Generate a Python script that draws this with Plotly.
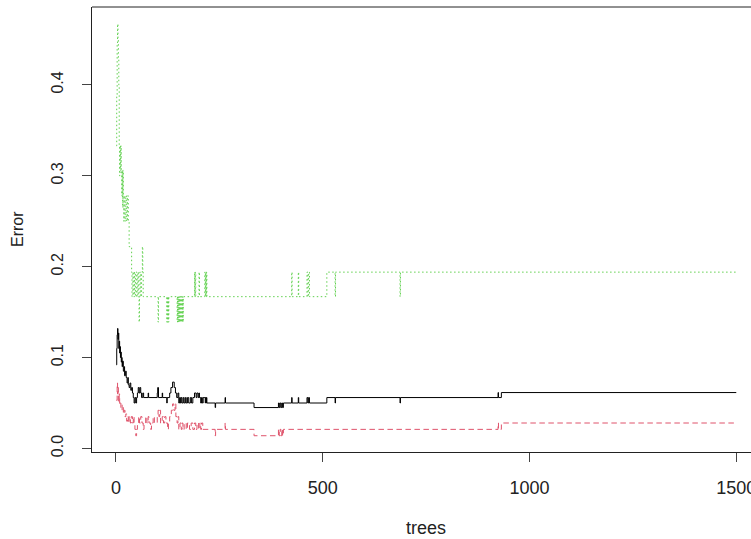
import plotly.graph_objects as go

# ---- data: change points (tree index where a new value starts) and error values ----
oob_trees = [1, 2, 3, 4, 5, 6, 7, 8, 9, 10, 11, 12, 13, 14, 15, 16, 18, 20, 21, 23, 25, 27, 29, 30,
             32, 34, 36, 38, 40, 42, 44, 46, 48, 50, 52, 54, 56, 58, 60, 62, 65, 67, 78, 79, 100,
             101, 103, 112, 113, 123, 124, 130, 133, 137, 141, 144, 147, 150, 152, 154, 156, 158,
             160, 163, 165, 168, 170, 173, 176, 180, 183, 186, 190, 194, 196, 199, 201, 202, 205,
             207, 209, 211, 215, 216, 217, 218, 219, 220, 240, 241, 264, 265, 334, 393, 395, 397,
             399, 401, 403, 405, 425, 426, 441, 442, 462, 464, 466, 468, 510, 530, 531, 687, 688,
             924, 925, 932, 1500]
oob_err = [0.092, 0.110, 0.125, 0.132, 0.120, 0.127, 0.110, 0.118, 0.105, 0.112, 0.100, 0.106,
           0.095, 0.100, 0.090, 0.096, 0.085, 0.090, 0.080, 0.085, 0.078, 0.072, 0.078, 0.070,
           0.067, 0.072, 0.064, 0.067, 0.061, 0.056, 0.050, 0.056, 0.050, 0.056, 0.061, 0.067,
           0.061, 0.067, 0.061, 0.056, 0.061, 0.056, 0.061, 0.056, 0.061, 0.067, 0.056, 0.061,
           0.056, 0.050, 0.056, 0.061, 0.067, 0.073, 0.067, 0.061, 0.056, 0.061, 0.050, 0.056,
           0.050, 0.056, 0.050, 0.056, 0.050, 0.056, 0.050, 0.056, 0.050, 0.056, 0.050, 0.056,
           0.061, 0.056, 0.061, 0.056, 0.061, 0.056, 0.050, 0.056, 0.050, 0.056, 0.056, 0.050,
           0.056, 0.050, 0.056, 0.050, 0.045, 0.050, 0.056, 0.050, 0.045, 0.050, 0.045, 0.050,
           0.045, 0.050, 0.045, 0.050, 0.056, 0.050, 0.056, 0.050, 0.056, 0.050, 0.056, 0.050,
           0.056, 0.050, 0.056, 0.050, 0.056, 0.0615, 0.056, 0.0615, 0.0615]

c1_trees = [1, 3, 4, 5, 6, 8, 9, 10, 12, 14, 15, 17, 18, 20, 22, 24, 26, 28, 30, 32, 35, 37, 40,
            42, 44, 46, 48, 50, 52, 55, 57, 60, 63, 66, 68, 72, 75, 78, 80, 84, 86, 90, 93, 100,
            102, 104, 106, 108, 112, 115, 118, 121, 125, 127, 130, 134, 137, 140, 143, 145, 148,
            150, 152, 155, 158, 160, 162, 165, 170, 173, 178, 182, 186, 190, 193, 196, 200, 203,
            205, 207, 210, 240, 241, 264, 265, 334, 393, 395, 397, 399, 401, 403, 405, 924, 925,
            932, 1500]
c1_err = [0.053, 0.072, 0.060, 0.067, 0.052, 0.060, 0.048, 0.050, 0.045, 0.048, 0.042, 0.045,
          0.038, 0.042, 0.035, 0.038, 0.030, 0.035, 0.028, 0.035, 0.028, 0.035, 0.028, 0.035,
          0.028, 0.021, 0.014, 0.021, 0.028, 0.035, 0.028, 0.035, 0.028, 0.021, 0.028, 0.035,
          0.028, 0.035, 0.028, 0.021, 0.028, 0.035, 0.028, 0.035, 0.042, 0.035, 0.042, 0.028,
          0.035, 0.028, 0.035, 0.028, 0.021, 0.028, 0.035, 0.042, 0.049, 0.042, 0.049, 0.035,
          0.028, 0.035, 0.021, 0.028, 0.021, 0.028, 0.021, 0.028, 0.021, 0.028, 0.021, 0.028,
          0.021, 0.028, 0.021, 0.028, 0.021, 0.028, 0.021, 0.028, 0.021, 0.014, 0.021, 0.028,
          0.021, 0.014, 0.021, 0.014, 0.021, 0.014, 0.021, 0.014, 0.021, 0.028, 0.021, 0.028,
          0.028]

c2_trees = [1, 2, 3, 4, 5, 6, 7, 8, 9, 10, 11, 12, 13, 14, 15, 16, 17, 18, 19, 20, 22, 24, 26,
            28, 30, 32, 38, 39, 41, 43, 45, 47, 49, 51, 53, 55, 56, 57, 58, 60, 62, 64, 65, 66,
            102, 103, 123, 124, 125, 126, 127, 128, 148, 149, 150, 151, 152, 153, 154, 155, 156,
            157, 158, 159, 160, 161, 162, 163, 190, 191, 192, 193, 201, 202, 215, 216, 217, 218,
            219, 220, 425, 426, 441, 442, 462, 464, 466, 468, 510, 530, 531, 687, 688, 1500]
c2_err = [0.333, 0.389, 0.444, 0.467, 0.450, 0.429, 0.400, 0.333, 0.300, 0.333, 0.306, 0.333,
          0.306, 0.278, 0.306, 0.265, 0.306, 0.278, 0.250, 0.278, 0.250, 0.278, 0.250, 0.278,
          0.250, 0.222, 0.194, 0.167, 0.194, 0.167, 0.194, 0.167, 0.194, 0.167, 0.194, 0.167,
          0.139, 0.167, 0.194, 0.167, 0.194, 0.222, 0.194, 0.167, 0.139, 0.167, 0.139, 0.167,
          0.139, 0.167, 0.139, 0.167, 0.139, 0.167, 0.139, 0.167, 0.139, 0.167, 0.139, 0.167,
          0.139, 0.167, 0.139, 0.167, 0.139, 0.167, 0.139, 0.167, 0.194, 0.167, 0.194, 0.167,
          0.194, 0.167, 0.194, 0.167, 0.194, 0.167, 0.194, 0.167, 0.194, 0.167, 0.194, 0.167,
          0.194, 0.167, 0.194, 0.167, 0.194, 0.167, 0.194, 0.167, 0.194, 0.194]

x_tickvals = [0, 500, 1000, 1500]
y_tickvals = [0.0, 0.1, 0.2, 0.3, 0.4]
y_ticktext = ["0.0", "0.1", "0.2", "0.3", "0.4"]

FONT = "Liberation Sans, Arial, sans-serif"
TXT = "#222222"

fig = go.Figure()
fig.add_trace(go.Scatter(x=oob_trees, y=oob_err, mode="lines", line_shape="hv",
                         line=dict(color="black", width=1), name="OOB"))
fig.add_trace(go.Scatter(x=c1_trees, y=c1_err, mode="lines", line_shape="hv",
                         line=dict(color="#DF536B", width=1, dash="5.5px,3.5px"), name="1"))
fig.add_trace(go.Scatter(x=c2_trees, y=c2_err, mode="lines", line_shape="hv",
                         line=dict(color="#61D04F", width=1, dash="1.5px,2.5px"), name="2"))

fig.update_layout(
    width=751, height=539,
    margin=dict(l=92, r=0, t=7, b=87),
    paper_bgcolor="white", plot_bgcolor="white",
    showlegend=False,
    font=dict(family=FONT, color=TXT),
)
fig.update_xaxes(range=[-57.8, 1535.6], showgrid=False, zeroline=False, automargin=False,
                 showline=True, linecolor="#222222", linewidth=1,
                 ticks="outside", ticklen=9, tickcolor="#444444", tickwidth=1,
                 tickvals=x_tickvals, tickfont=dict(size=18, family=FONT, color=TXT),
                 ticklabelstandoff=10, ticklabeloverflow="allow")
fig.update_yaxes(range=[-0.0039, 0.4857], showgrid=False, zeroline=False, automargin=False,
                 showline=True, linecolor="#222222", linewidth=1,
                 ticks="outside", ticklen=9, tickcolor="#444444", tickwidth=1,
                 tickvals=y_tickvals, ticktext=y_ticktext, tickangle=-90,
                 tickfont=dict(size=16, family=FONT, color=TXT),
                 ticklabelstandoff=13, ticklabeloverflow="allow")
# top frame line (right side of the R box lies outside the window)
fig.add_shape(type="line", xref="paper", yref="paper", x0=0, x1=1, y0=1, y1=1,
              line=dict(color="#222222", width=1))
fig.add_annotation(text="trees", xref="x", yref="paper", x=750, y=-0.1708,
                   showarrow=False, xanchor="center", yanchor="middle",
                   font=dict(size=18, family=FONT, color=TXT))
fig.add_annotation(text="Error", xref="paper", yref="paper", x=-0.113, y=0.5,
                   showarrow=False, xanchor="center", yanchor="middle", textangle=-90,
                   font=dict(size=16, family=FONT, color=TXT))

fig.write_html("out.html", config={"displayModeBar": False},
               post_script="document.body.style.margin='0';document.body.style.overflow='hidden';")
